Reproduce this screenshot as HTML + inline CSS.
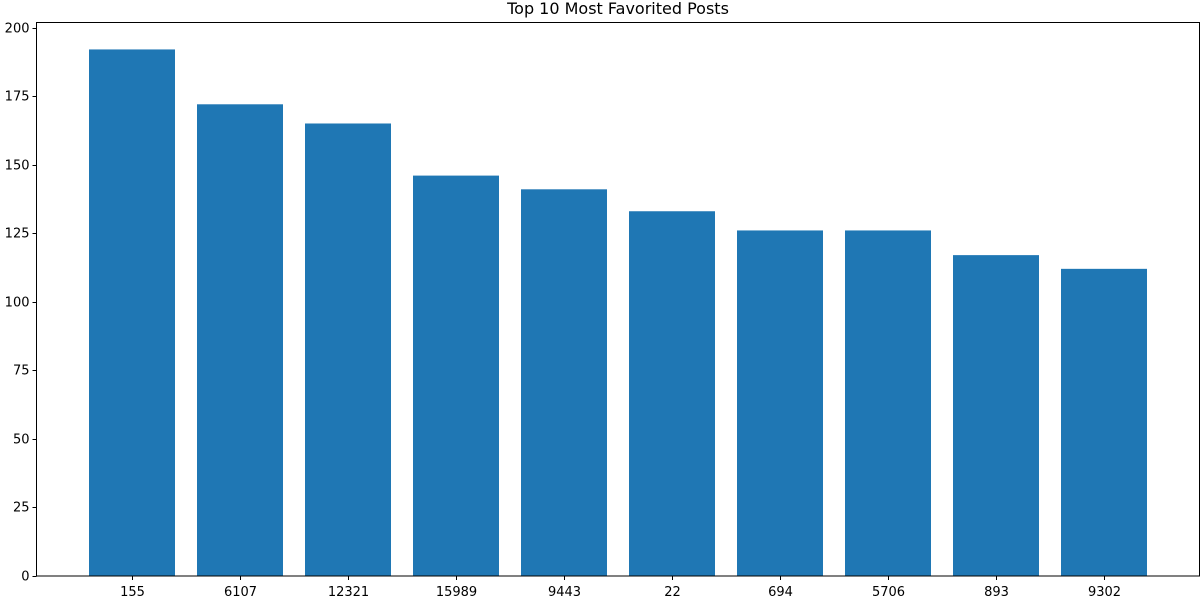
<!DOCTYPE html>
<html><head><meta charset="utf-8"><style>
html,body{margin:0;padding:0;background:#fff;}
svg text{font-family:"DejaVu Sans","Liberation Sans",sans-serif;}
</style></head><body>
<svg id="chart" width="1200" height="600" xmlns="http://www.w3.org/2000/svg"></svg>
<script>
const categories = ["155","6107","12321","15989","9443","22","694","5706","893","9302"];
const favorites = [192,172,165,146,141,133,126,126,117,112];
const yTicks = [0,25,50,75,100,125,150,175,200];

const L=36.5, R=1199.5, T=22.5, B=576;
const pxPerUnit=(576-27.5)/200;
const y=v=>B-v*pxPerUnit;
const x=i=>132+i*108;
const bw=86;
const NS="http://www.w3.org/2000/svg";
const svg=document.getElementById('chart');
function mk(tag,attrs,parent){const e=document.createElementNS(NS,tag);for(const k in attrs)e.setAttribute(k,attrs[k]);(parent||svg).appendChild(e);return e;}

const bars=mk('g',{});


favorites.forEach((v,i)=>{
  const r=mk('rect',{x:x(i)-bw/2,y:y(v),width:bw,height:B-y(v),fill:'#1f77b4'},bars);
  
  
});

const frame=mk('rect',{x:L,y:T,width:R-L,height:B-T,fill:'none',stroke:'#000','stroke-width':1});



const yax=mk('g',{});


yTicks.forEach(t=>{
  const yy=Math.round(y(t))+0.5;
  mk('line',{x1:L-4,x2:L,y1:yy,y2:yy,stroke:'#000'},yax);
  const tx=mk('text',{x:L-7,y:yy+4,'text-anchor':'end','font-size':13},yax);
  tx.textContent=t;
  
  
});

const xax=mk('g',{});


categories.forEach((c,i)=>{
  const xx=x(i)+0.5;
  mk('line',{x1:xx,x2:xx,y1:B,y2:B+4,stroke:'#000'},xax);
  const tx=mk('text',{x:xx,y:B+20,'text-anchor':'middle','font-size':13},xax);
  tx.textContent=c;
  
  
});

const title=mk('text',{x:(L+R)/2,y:14,'text-anchor':'middle','font-size':16});
title.textContent='Top 10 Most Favorited Posts';


</script>
</body></html>
